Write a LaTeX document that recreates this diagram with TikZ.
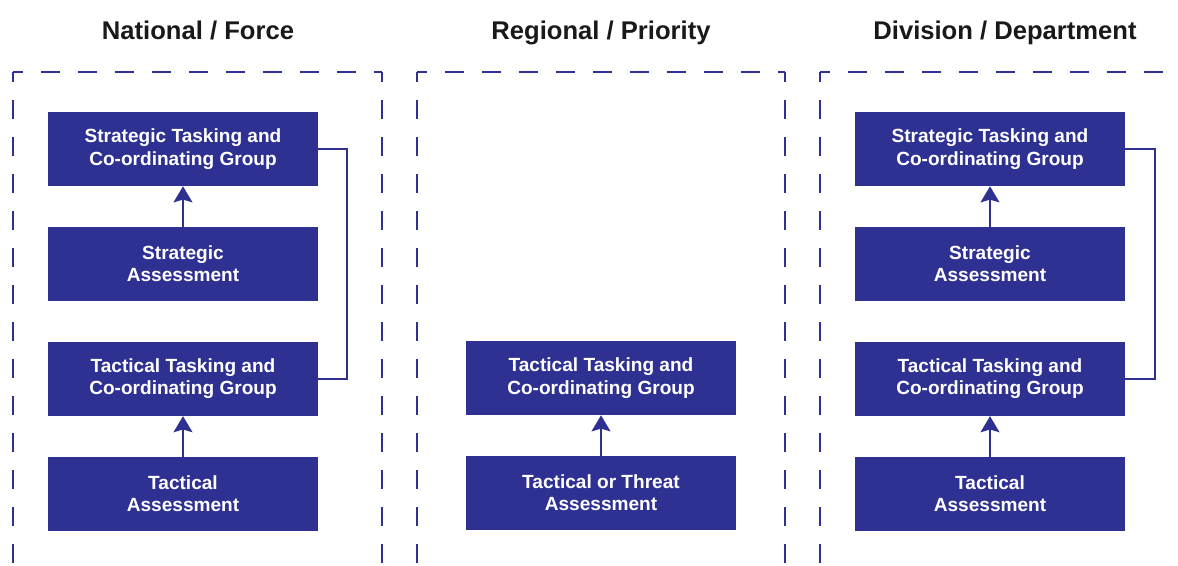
\documentclass[tikz,border=0pt]{standalone}
\usepackage{fontspec}
\setmainfont{Liberation Sans}
\usepackage{tikz}
\usetikzlibrary{arrows.meta,positioning}
\definecolor{navy}{RGB}{46,49,146}

\begin{document}
\begin{tikzpicture}[
x=0.75pt,y=-0.75pt,
block/.style={
draw=none,
fill=navy,
rectangle,
minimum width=202.5pt,
minimum height=55.5pt,
inner sep=0pt,
align=center,
text=white,
font=\fontsize{14.3pt}{16.7pt}\selectfont\bfseries},
head/.style={anchor=base, font=\fontsize{19.2pt}{22pt}\selectfont\bfseries, text={black!90}},
frame/.style={draw=navy, line width=2.2pt, dash pattern=on 14.25pt off 13.5pt, dash phase=6.75pt},
link/.style={draw=navy, line width=1.5pt},
up/.style={draw=navy, line width=2.2pt, -{Stealth[length=12pt,width=14pt,inset=2pt]}},
node distance=30.3pt]
\useasboundingbox (0,0) rectangle (1178,566);

% column headings
\node[head](h1) at (198,40) {National / Force};
\node[head](h2) at (601,40) {Regional / Priority};
\node[head](h3) at (1005,40) {Division / Department};

% dashed frames, open at the bottom
\draw[frame] (13,72) -- (382,72);
\draw[frame] (13,72) -- (13,566);
\draw[frame] (382,72) -- (382,566);
\draw[frame] (417,72) -- (785,72);
\draw[frame] (417,72) -- (417,566);
\draw[frame] (785,72) -- (785,566);
\draw[frame] (820,72) -- (1189,72);
\draw[frame] (820,72) -- (820,566);

% national / force
\node[block](a1) at (183,149) {Strategic Tasking and\\Co-ordinating Group};
\node[block,below=of a1](a2) {Strategic\\Assessment};
\node[block,below=of a2](a3) {Tactical Tasking and\\Co-ordinating Group};
\node[block,below=of a3](a4) {Tactical\\Assessment};
\draw[up] (a2) -- (a1);
\draw[up] (a4) -- (a3);
\draw[link] (a1.east) -- ++(29,0) |- (a3.east);

% regional / priority
\node[block](b1) at (601,378) {Tactical Tasking and\\Co-ordinating Group};
\node[block,below=of b1](b2) {Tactical or Threat\\Assessment};
\draw[up] (b2) -- (b1);

% division / department
\node[block](c1) at (990,149) {Strategic Tasking and\\Co-ordinating Group};
\node[block,below=of c1](c2) {Strategic\\Assessment};
\node[block,below=of c2](c3) {Tactical Tasking and\\Co-ordinating Group};
\node[block,below=of c3](c4) {Tactical\\Assessment};
\draw[up] (c2) -- (c1);
\draw[up] (c4) -- (c3);
\draw[link] (c1.east) -- ++(30,0) |- (c3.east);
\end{tikzpicture}
\end{document}
